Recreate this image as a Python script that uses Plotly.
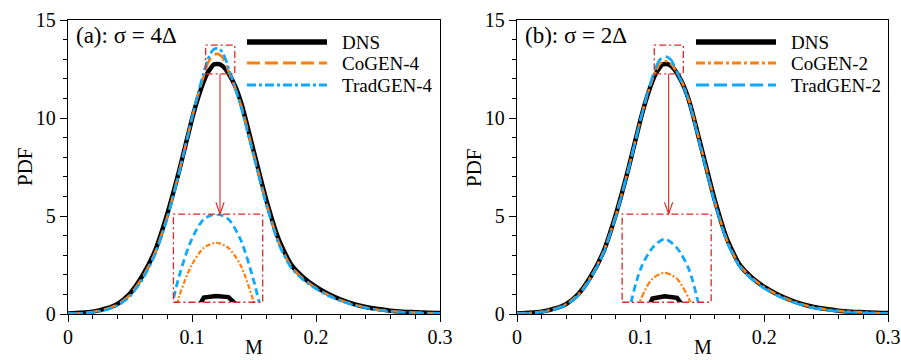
import plotly.graph_objects as go

W, H = 901, 360
FONT = "Liberation Serif"

# ---------------- data ----------------
M = [0.00, 0.01, 0.02, 0.03, 0.04, 0.05, 0.06, 0.07, 0.08, 0.09, 0.10,
     0.105, 0.11, 0.1125, 0.115, 0.1175, 0.12, 0.1225, 0.125, 0.1275, 0.13, 0.135, 0.14,
     0.15, 0.16, 0.17, 0.18, 0.19, 0.20, 0.21, 0.22, 0.23, 0.24, 0.25, 0.26, 0.27, 0.28, 0.29, 0.30]

DNS = [0.03, 0.06, 0.12, 0.27, 0.52, 1.05, 1.95, 3.20, 5.10, 7.40, 9.95,
       11.05, 11.95, 12.30, 12.53, 12.735, 12.75, 12.74, 12.63, 12.45, 12.22, 11.60, 10.70,
       8.25, 5.80, 3.80, 2.52, 1.85, 1.38, 1.02, 0.74, 0.52, 0.36, 0.25, 0.17, 0.12, 0.09, 0.06, 0.05]

COGEN4 = [0.02, 0.04, 0.10, 0.24, 0.48, 0.98, 1.85, 3.10, 4.95, 7.35, 10.00,
          11.20, 12.25, 12.75, 13.05, 13.22, 13.27, 13.22, 13.05, 12.72, 12.30, 11.50, 10.55,
          8.10, 5.65, 3.65, 2.42, 1.78, 1.33, 0.97, 0.70, 0.49, 0.33, 0.22, 0.15, 0.10, 0.07, 0.05, 0.04]

TRADGEN4 = [0.02, 0.03, 0.08, 0.20, 0.43, 0.90, 1.75, 3.00, 4.85, 7.30, 10.00,
            11.30, 12.45, 12.95, 13.30, 13.50, 13.55, 13.50, 13.30, 12.93, 12.45, 11.50, 10.45,
            8.00, 5.55, 3.55, 2.35, 1.72, 1.28, 0.93, 0.66, 0.46, 0.31, 0.20, 0.13, 0.09, 0.06, 0.04, 0.03]

COGEN2 = [0.03, 0.05, 0.11, 0.26, 0.51, 1.02, 1.92, 3.17, 5.05, 7.38, 9.95,
          11.10, 12.05, 12.42, 12.72, 12.87, 12.91, 12.87, 12.73, 12.50, 12.25, 11.60, 10.70,
          8.20, 5.72, 3.72, 2.48, 1.83, 1.36, 1.00, 0.72, 0.50, 0.34, 0.23, 0.16, 0.11, 0.08, 0.05, 0.04]

TRADGEN2 = [0.02, 0.04, 0.10, 0.23, 0.47, 0.97, 1.86, 3.12, 5.00, 7.35, 9.95,
            11.15, 12.20, 12.62, 12.93, 13.08, 13.14, 13.08, 12.93, 12.62, 12.25, 11.55, 10.60,
            8.10, 5.65, 3.65, 2.42, 1.77, 1.31, 0.95, 0.68, 0.47, 0.31, 0.21, 0.14, 0.09, 0.06, 0.04, 0.03]

X_TICKS = [0, 0.1, 0.2, 0.3]
X_TICK_LABELS = ["0", "0.1", "0.2", "0.3"]
Y_TICKS = [0, 5, 10, 15]
Y_TICK_LABELS = ["0", "5", "10", "15"]

# zoom boxes (data coordinates) and inset view ranges
SMALL_X = [0.111, 0.1345]
SMALL_Y = [12.25, 13.72]
BIG_X = [0.085, 0.157]
BIG_Y = [0.6, 5.1]
ARROW_X = 0.1226
INSET_X = [0.1113, 0.1295]
INSET_Y_A = [12.69, 13.55]
INSET_Y_B = [12.71, 13.31]

# ---------------- styles ----------------
BLACK = "black"
ORANGE = "#ff7f0e"
BLUE = "#10a8f8"
RED = "#e02626"
DASH = "13px,5px"
DASHDOT = "9px,3px,3px,3px"
BOXDASH = "7px,3px,2px,3px"

XA = [68 / W, 440 / W]
XB = [517 / W, 888 / W]
YD = [46 / H, 340 / H]


def frac(dom, v, vmax):
    return dom[0] + v / vmax * (dom[1] - dom[0])


panels = [
    dict(xa="x", ya="y", ix="x3", iy="y3", dom=XA, iyr=INSET_Y_A,
         label="(a): σ = 4Δ", co=COGEN4, tr=TRADGEN4,
         names=["DNS", "CoGEN-4", "TradGEN-4"],
         co_dash=DASH, tr_dash=DASHDOT, ico_dash="5px,2px,2px,2px", itr_dash="7px,4px"),
    dict(xa="x2", ya="y2", ix="x4", iy="y4", dom=XB, iyr=INSET_Y_B,
         label="(b): σ = 2Δ", co=COGEN2, tr=TRADGEN2,
         names=["DNS", "CoGEN-2", "TradGEN-2"],
         co_dash=DASHDOT, tr_dash=DASH, ico_dash="6px,2px,2px,2px", itr_dash="7px,4px"),
]

fig = go.Figure()
layout = dict(width=W, height=H, margin=dict(l=0, r=0, t=0, b=0, pad=0), autosize=False,
              paper_bgcolor="white", plot_bgcolor="white", showlegend=False,
              font=dict(family=FONT, color="black", size=20))
shapes = []
annotations = []

axis_common = dict(showgrid=False, zeroline=False, showline=True, linecolor="black",
                   linewidth=1.3, mirror=True, ticks="outside", ticklen=7, tickwidth=1.2,
                   tickcolor="black", automargin=False,
                   tickfont=dict(family=FONT, size=20, color="black"))

for i, p in enumerate(panels):
    xa, ya = p["xa"], p["ya"]
    # main curves
    fig.add_trace(go.Scatter(x=M, y=DNS, xaxis=xa, yaxis=ya, mode="lines",
                             line=dict(color=BLACK, width=4.5, shape="spline", smoothing=0.6)))
    fig.add_trace(go.Scatter(x=M, y=p["co"], xaxis=xa, yaxis=ya, mode="lines",
                             line=dict(color=ORANGE, width=2.6, dash=p["co_dash"], shape="spline", smoothing=0.6)))
    fig.add_trace(go.Scatter(x=M, y=p["tr"], xaxis=xa, yaxis=ya, mode="lines",
                             line=dict(color=BLUE, width=2.6, dash=p["tr_dash"], shape="spline", smoothing=0.6)))
    # inset curves
    fig.add_trace(go.Scatter(x=M, y=DNS, xaxis=p["ix"], yaxis=p["iy"], mode="lines",
                             line=dict(color=BLACK, width=4.5)))
    fig.add_trace(go.Scatter(x=M, y=p["co"], xaxis=p["ix"], yaxis=p["iy"], mode="lines",
                             line=dict(color=ORANGE, width=2.2, dash=p["ico_dash"], shape="spline", smoothing=0.8)))
    fig.add_trace(go.Scatter(x=M, y=p["tr"], xaxis=p["ix"], yaxis=p["iy"], mode="lines",
                             line=dict(color=BLUE, width=2.8, dash=p["itr_dash"], shape="spline", smoothing=0.8)))

    n = "" if i == 0 else "2"
    layout["xaxis" + n] = dict(axis_common, domain=p["dom"], anchor=ya, range=[0, 0.3],
                               tickmode="array", tickvals=X_TICKS, ticktext=X_TICK_LABELS,
                               ticklabelstandoff=-2,
                               minor=dict(tickmode="linear", tick0=0, dtick=0.02, ticks="outside",
                                          ticklen=4, tickwidth=1, tickcolor="black"))
    layout["yaxis" + n] = dict(axis_common, domain=YD, anchor=xa, range=[0, 15],
                               tickmode="array", tickvals=Y_TICKS, ticktext=Y_TICK_LABELS,
                               minor=dict(tickmode="linear", tick0=0, dtick=1, ticks="outside",
                                          ticklen=4, tickwidth=1, tickcolor="black"))
    inx = [frac(p["dom"], BIG_X[0], 0.3), frac(p["dom"], BIG_X[1], 0.3)]
    iny = [frac(YD, BIG_Y[0], 15), frac(YD, BIG_Y[1], 15)]
    k = "3" if i == 0 else "4"
    layout["xaxis" + k] = dict(domain=inx, anchor="y" + k, range=INSET_X, visible=False, fixedrange=True)
    layout["yaxis" + k] = dict(domain=iny, anchor="x" + k, range=p["iyr"], visible=False, fixedrange=True)

    # zoom boxes and arrow
    for bx, by in ((SMALL_X, SMALL_Y), (BIG_X, BIG_Y)):
        shapes.append(dict(type="rect", xref=xa, yref=ya, x0=bx[0], x1=bx[1], y0=by[0], y1=by[1],
                           line=dict(color=RED, width=1.3, dash=BOXDASH), layer="above"))
    shapes.append(dict(type="line", xref=xa, yref=ya, x0=ARROW_X, x1=ARROW_X, y0=SMALL_Y[0], y1=BIG_Y[1],
                       line=dict(color=RED, width=1.1)))
    shapes.append(dict(type="path", xref=xa, yref=ya,
                       path=f"M {ARROW_X - 0.0033},{BIG_Y[1] + 0.6} L {ARROW_X},{BIG_Y[1]} L {ARROW_X + 0.0033},{BIG_Y[1] + 0.6}",
                       line=dict(color=RED, width=1.1)))

    # manual legend (long sample lines as in the original)
    off = p["dom"][0] * W
    lx0, lx1, tx = off + 179, off + 259, off + 272
    rows = [42, 63, 85]
    styles = [(BLACK, 5.5, "solid"), (ORANGE, 3, p["co_dash"]), (BLUE, 3, p["tr_dash"])]
    for r, (c, w, d), name in zip(rows, styles, p["names"]):
        shapes.append(dict(type="line", xref="paper", yref="paper", x0=lx0 / W, x1=lx1 / W,
                           y0=(H - r) / H, y1=(H - r) / H, line=dict(color=c, width=w, dash=d)))
        annotations.append(dict(text=name, xref="paper", yref="paper", x=tx / W, y=(H - r) / H,
                                xanchor="left", yanchor="middle", showarrow=False,
                                font=dict(family=FONT, size=19, color="black")))
    # panel label
    annotations.append(dict(text=p["label"], xref="paper", yref="paper", x=(off + 6) / W, y=(H - 36) / H,
                            xanchor="left", yanchor="middle", showarrow=False,
                            font=dict(family=FONT, size=23, color="black")))
    # axis titles
    annotations.append(dict(text="PDF", xref="paper", yref="paper", x=(off - 43) / W, y=(H - 167) / H,
                            textangle=-90, xanchor="center", yanchor="middle", showarrow=False,
                            font=dict(family=FONT, size=21, color="black")))
    annotations.append(dict(text="M", xref="paper", yref="paper", x=(off + 186) / W, y=0,
                            xanchor="center", yanchor="bottom", showarrow=False,
                            font=dict(family=FONT, size=20, color="black")))

layout["shapes"] = shapes
layout["annotations"] = annotations
fig.update_layout(**layout)
fig.write_html("out.html", config={"displayModeBar": False},
               post_script="document.body.style.margin='0';document.body.style.overflow='hidden';")
